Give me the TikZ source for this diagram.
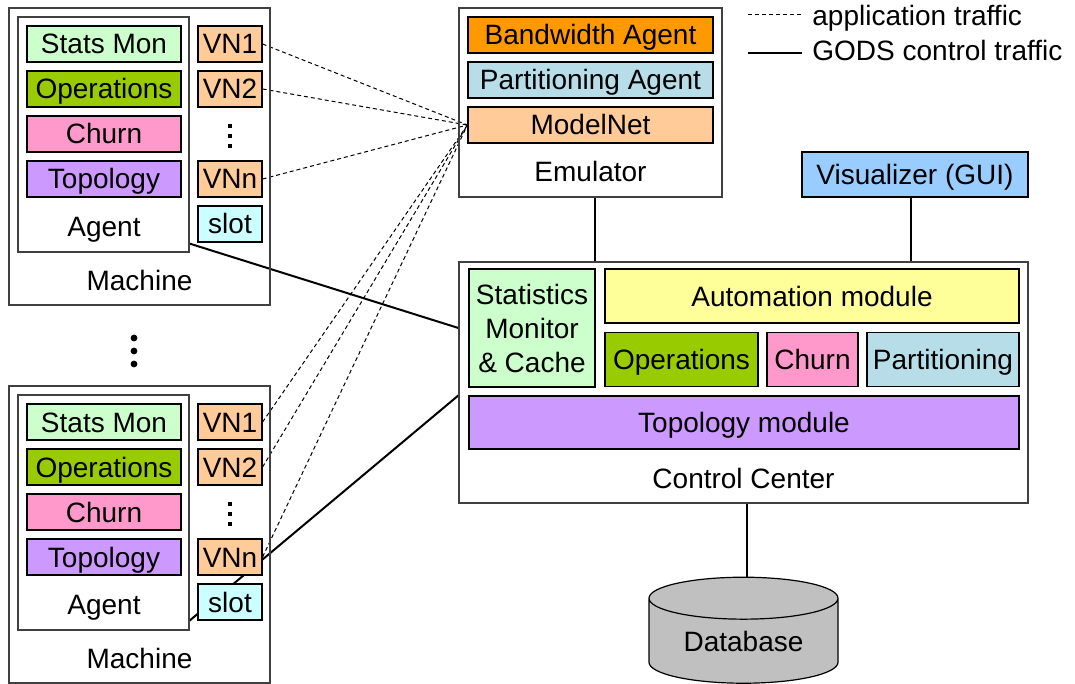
\documentclass[tikz,border=0pt]{standalone}
\usepackage{fontspec}
\setmainfont{Liberation Sans}
\usepackage{tikz}
\usetikzlibrary{shapes.geometric,backgrounds}
\definecolor{statfill}{RGB}{204,255,204}
\definecolor{opsfill}{RGB}{153,204,0}
\definecolor{churnfill}{RGB}{255,153,204}
\definecolor{topofill}{RGB}{204,153,255}
\definecolor{vnfill}{RGB}{255,204,153}
\definecolor{slotfill}{RGB}{204,255,255}
\definecolor{bwfill}{RGB}{255,153,0}
\definecolor{partfill}{RGB}{183,222,232}
\definecolor{visfill}{RGB}{153,204,255}
\definecolor{autofill}{RGB}{255,255,153}
\definecolor{dbfill}{RGB}{192,192,192}
\definecolor{frameline}{RGB}{64,64,64}

\begin{document}
\begin{tikzpicture}[
      x=0.5pt,y=-0.5pt,
      font=\fontsize{14}{17}\selectfont,
      frame/.style={draw=frameline,line width=0.6pt,inner sep=0pt},
      oneline/.style={text height=10pt,text depth=0pt},
      part/.style={draw,line width=0.6pt,inner sep=0pt,align=center,minimum height=18pt},
      agentpart/.style={part,oneline,minimum width=77pt},
      vn/.style={part,oneline,fill=vnfill,minimum width=32pt},
      emupart/.style={part,oneline,minimum width=122.5pt},
      ccpart/.style={part,oneline,minimum height=27pt},
      boxtitle/.style={oneline,inner sep=0pt},
      app/.style={draw,line width=0.5pt,dash pattern=on 2pt off 1.5pt},
      ctrl/.style={draw,line width=1pt}]

    \useasboundingbox (0,0) rectangle (1075,684);

    \node[frame,minimum width=130.5pt,minimum height=148.5pt] (m1) at (139.5,156.5) {};
    \node[frame,minimum width=85.5pt,minimum height=117.5pt] (ag1) at (103.5,134.5) {};
    \node[agentpart,fill=statfill] (ag1stat) at (104,44) {Stats Mon};
    \node[agentpart,fill=opsfill] (ag1ops) at (104,89) {Operations};
    \node[agentpart,fill=churnfill] (ag1churn) at (104,134) {Churn};
    \node[agentpart,fill=topofill] (ag1topo) at (104,179) {Topology};
    \node[boxtitle] (ag1name) at (104,226) {Agent};
    \node[vn] (m1vn1) at (230,44) {VN1};
    \node[vn] (m1vn2) at (230,89) {VN2};
    \node[vn] (m1vnn) at (230,179) {VNn};
    \node[part,oneline,fill=slotfill,minimum width=32pt] (m1slot) at (230,224) {slot};
    \node[boxtitle] (m1name) at (139.5,280) {Machine};
    \foreach \y in {126,136,146}
      \fill (228,\y-2) rectangle (232,\y+2);

    \foreach \y in {338,351,364}
      \fill (134,\y) circle (1.7pt);

    \node[frame,minimum width=130.5pt,minimum height=148.5pt] (m2) at (139.5,534.5) {};
    \node[frame,minimum width=85.5pt,minimum height=117.5pt] (ag2) at (103.5,512.5) {};
    \node[agentpart,fill=statfill] (ag2stat) at (104,422) {Stats Mon};
    \node[agentpart,fill=opsfill] (ag2ops) at (104,467) {Operations};
    \node[agentpart,fill=churnfill] (ag2churn) at (104,512) {Churn};
    \node[agentpart,fill=topofill] (ag2topo) at (104,557) {Topology};
    \node[boxtitle] (ag2name) at (104,604) {Agent};
    \node[vn] (m2vn1) at (230,422) {VN1};
    \node[vn] (m2vn2) at (230,467) {VN2};
    \node[vn] (m2vnn) at (230,557) {VNn};
    \node[part,oneline,fill=slotfill,minimum width=32pt] (m2slot) at (230,602) {slot};
    \node[boxtitle] (m2name) at (139.5,658) {Machine};
    \foreach \y in {504,514,524}
      \fill (228,\y-2) rectangle (232,\y+2);

    \node[frame,minimum width=131.5pt,minimum height=94.5pt] (emu) at (590.5,102.5) {};
    \node[emupart,fill=bwfill] (bwagent) at (590.5,35) {Bandwidth Agent};
    \node[emupart,fill=partfill] (partagent) at (590.5,80) {Partitioning Agent};
    \node[emupart,fill=vnfill] (modelnet) at (590.5,125) {ModelNet};
    \node[boxtitle] (emuname) at (590.5,172) {Emulator};

    \node[part,oneline,fill=visfill,minimum width=113pt,minimum height=22.5pt] (vis) at (915,174.5) {Visualizer (GUI)};

    \node[frame,minimum width=284.5pt,minimum height=120.5pt] (cc) at (743.5,382.5) {};
    \node[part,fill=statfill,minimum width=63pt,minimum height=59pt] (ccstat) at (532,328)
      {Statistics\\Monitor\\\& Cache};
    \node[ccpart,fill=autofill,minimum width=207pt] (ccauto) at (812,296) {Automation module};
    \node[ccpart,fill=opsfill,minimum width=76.5pt] (ccops) at (681.5,359.5) {Operations};
    \node[ccpart,fill=churnfill,minimum width=45.5pt] (ccchurn) at (812.5,359.5) {Churn};
    \node[ccpart,fill=partfill,minimum width=76pt] (ccpart) at (943,359.5) {Partitioning};
    \node[ccpart,fill=topofill,minimum width=275pt,minimum height=26.5pt] (cctopo) at (744,422.5) {Topology module};
    \node[boxtitle] (ccname) at (743.5,478) {Control Center};

    \node[cylinder,shape border rotate=90,aspect=0.35,draw,line width=0.6pt,fill=dbfill,
          minimum width=94.5pt,minimum height=53pt,inner sep=0pt,oneline] (db) at (743.5,641) {Database};

    \coordinate (appa) at (748,15);
    \coordinate (appb) at (802,15);
    \coordinate (ctrla) at (748,53);
    \coordinate (ctrlb) at (802,53);
    \node[boxtitle,anchor=west] (applegend) at (812,16) {application traffic};
    \node[boxtitle,anchor=west] (ctrllegend) at (812,51) {GODS control traffic};
    \draw[app] (appa) -- (appb);
    \draw[ctrl] (ctrla) -- (ctrlb);

    \begin{pgfonlayer}{background}
      \draw[app] (m1vn1.east) -- (modelnet.west);
      \draw[app] (m1vn2.east) -- (modelnet.west);
      \draw[app] (m1vnn.east) -- (modelnet.west);
      \draw[app] (m2vn1.east) -- (modelnet.west);
      \draw[app] (m2vn2.east) -- (modelnet.west);
      \draw[app] (m2vnn.east) -- (modelnet.west);
      \draw[ctrl] ([yshift=4.5pt]ag1.south east) -- (cc.west |- ccstat.center);
      \draw[ctrl] ([yshift=5pt]ag2.south east) -- (cc.west |- cctopo.north);
      \draw[ctrl] ([xshift=2pt]emu.south) -- ([xshift=2pt]emu.south |- cc.north);
      \draw[ctrl] ([xshift=-2pt]vis.south) -- ([xshift=-2pt]vis.south |- cc.north);
      \draw[ctrl] ([xshift=1.5pt]cc.south) -- ([xshift=1.5pt]cc.south |- db.top);
    \end{pgfonlayer}
  \end{tikzpicture}
\end{document}
